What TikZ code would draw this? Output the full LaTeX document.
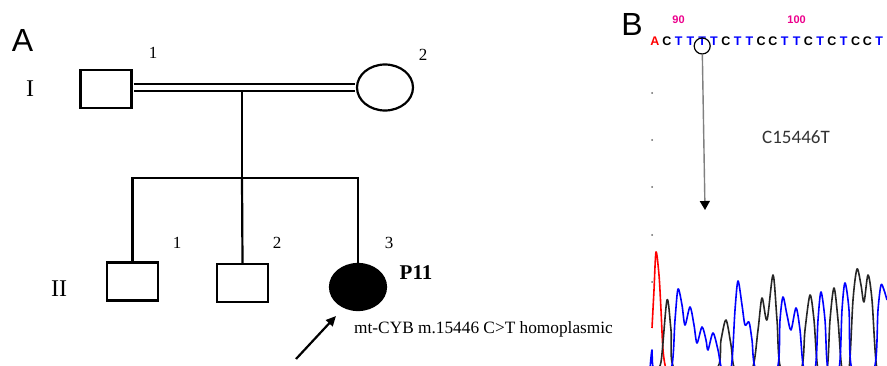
\documentclass[tikz,border=0pt]{standalone}
\usepackage{fontspec}
\setmainfont{Liberation Serif}
\newfontfamily\panelfont{Liberation Sans}
\newfontfamily\notefont{Carlito}
\usetikzlibrary{shapes.geometric,arrows.meta}

\tikzset{
  male/.style={draw,rectangle,line width=2.2pt,minimum width=51pt,minimum height=38pt,inner sep=0pt},
  female/.style={draw,ellipse,line width=2.2pt,minimum width=56pt,minimum height=46pt,inner sep=0pt},
  affected/.style={female,fill=black},
  kin/.style={line width=2.2pt},
  idnum/.style={font=\fontsize{17}{20}\selectfont,inner sep=0pt},
  gen/.style={font=\fontsize{24}{28}\selectfont,inner sep=0pt},
  panel/.style={font=\panelfont\fontsize{32}{36}\selectfont,inner sep=0pt},
  seqbase/.style={font=\panelfont\bfseries\fontsize{12.5}{14}\selectfont,inner sep=0pt},
  posnum/.style={font=\panelfont\bfseries\fontsize{11}{13}\selectfont,text=magenta,inner sep=0pt},
  trace/.style={line width=1.6pt,line join=round}
}

\begin{document}
\begin{tikzpicture}[x=1pt,y=-1pt]
\useasboundingbox (0,0) rectangle (887,366);
% panel A: pedigree
\node[panel] (A) at (22.5,40.5) {A};
\node[gen] (g1) at (30,89) {I};
\node[gen] (g2) at (59,289) {II};
\node[male] (I1) at (106,89) {};
\node[female] (I2) at (385,87.5) {};
\node[idnum] (n11) at (153,53) {1};
\node[idnum] (n12) at (423,55) {2};
\draw[kin,double,double distance=4.8pt,shorten <=1.1pt,shorten >=1.1pt] (I1.east |- I2.west) -- (I2.west);
\node[male] (II1) at (132.5,281.5) {};
\node[male] (II2) at (242.5,283) {};
\node[affected] (II3) at (358,287) {};
\node[idnum] (n21) at (177,243) {1};
\node[idnum] (n22) at (277,243) {2};
\node[idnum] (n23) at (389,243) {3};
\node[font=\bfseries\fontsize{21}{24}\selectfont,inner sep=0pt] (p11) at (416,273) {P11};
\coordinate (mate) at (242,90.5);
\coordinate (sib) at (242,178);
\draw[kin] (mate) -- (sib);
\draw[kin] (II1.north) |- (II3.north |- sib) -- (II3.north);
\draw[kin] (sib) -- (II2.north);
\coordinate (ptail) at (296,359);
\coordinate (ptip) at (336,316);
\draw[kin,-{Triangle[length=10pt,width=9pt]}] (ptail) -- (ptip);
\node[anchor=west,font=\fontsize{17.3}{20}\selectfont,inner sep=0pt] (note) at (354,329) {mt-CYB m.15446 C>T homoplasmic};
% panel B: chromatogram
\node[panel] (B) at (632,24) {B};
\foreach \b/\c [count=\i from 0] in {A/red,C/black,T/blue,T/blue,T/blue,T/blue,C/black,T/blue,T/blue,C/black,C/black,T/blue,T/blue,C/black,T/blue,C/black,T/blue,C/black,C/black,T/blue}
  \node[seqbase,text=\c] (b\i) at ({655+11.8*\i},41) {\b};
\node[posnum] (p90) at (b2 |- 0,20) {90};
\node[posnum] (p100) at (b12 |- 0,20) {100};
\node[draw,circle,line width=1.2pt,minimum size=16pt,inner sep=0pt] (mark) at ([yshift=-5pt]b4) {};
\coordinate (site) at (705,210);
\draw[line width=1.4pt,gray,-{Triangle[color=black,length=9pt,width=10pt]}] (mark) -- (site);
\node[font=\notefont\fontsize{19}{22}\selectfont,text=black!80,inner sep=0pt] (mut) at (796,137) {C15446T};
\foreach \y in {93,140,187,235,282}
  \fill[black!60] (652,\y) circle (1pt);
\draw[trace,red] plot[smooth,tension=0.5] coordinates {(652,328) (654,290) (656,252) (659,275) (661,310) (663,350) (666,369) (670,369)};
\draw[trace,black!85] plot[smooth,tension=0.5] coordinates {(655,369) (661,362) (667,300) (671,330) (675,369) (716,369) (721,340) (726,320) (731,345) (735,369) (752,369) (758,330) (762,298) (767,320) (773,275) (777,320) (781,369) (801,369) (805,330) (810,295) (814,320) (818,369) (827,369) (830,320) (834,288) (838,320) (842,369) (849,369) (853,300) (857,269) (861,285) (864,302) (868,275) (872,300) (877,369) (887,369)};
\draw[trace,blue] plot[smooth,tension=0.5] coordinates {(650,369) (652,350) (654,369) (671,369) (675,320) (678,289) (682,305) (685,325) (690,307) (694,325) (697,343) (702,327) (706,340) (708,350) (713,333) (718,350) (722,369) (731,369) (735,310) (738,281) (742,305) (745,325) (749,322) (752,340) (756,369) (777,369) (780,320) (783,297) (787,315) (791,330) (796,308) (800,330) (804,369) (815,369) (818,320) (821,292) (825,320) (828,369) (839,369) (842,310) (845,283) (849,310) (852,369) (874,369) (878,310) (881,285) (884,290) (887,300)};
\end{tikzpicture}
\end{document}
